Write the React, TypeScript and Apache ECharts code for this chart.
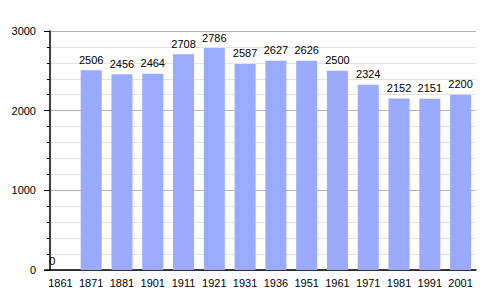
import React, { useEffect, useRef } from "react";
import * as echarts from "echarts";

const years = ["1861", "1871", "1881", "1901", "1911", "1921", "1931", "1936", "1951", "1961", "1971", "1981", "1991", "2001"];
const population = [0, 2506, 2456, 2464, 2708, 2786, 2587, 2627, 2626, 2500, 2324, 2152, 2151, 2200];

export default function App() {
  const ref = useRef<HTMLDivElement>(null);
  useEffect(() => {
    if (!ref.current) return;
    const chart = echarts.init(ref.current, null, { renderer: "svg" });
    const font = "'Liberation Sans', Arial, sans-serif";
    chart.setOption({
      animation: false,
      grid: { left: 45, right: 24, top: 31, bottom: 30, containLabel: false },
      xAxis: {
        type: "category",
        data: years,
        axisLine: { show: true, lineStyle: { color: "#000", width: 1.5 } },
        axisTick: { show: false },
        axisLabel: { color: "#000", fontSize: 11, fontFamily: font, margin: 7, interval: 0 },
        splitLine: { show: false },
      },
      yAxis: {
        type: "value",
        min: 0,
        max: 3000,
        interval: 1000,
        offset: -5,
        axisLine: { show: true, lineStyle: { color: "#000", width: 1.5 } },
        axisTick: { show: true, length: 6, lineStyle: { color: "#000" } },
        minorTick: { show: true, splitNumber: 5, length: 3, lineStyle: { color: "#000" } },
        axisLabel: {
          color: "#000",
          fontSize: 11,
          fontFamily: font,
          margin: 14,
          formatter: (v: number) => String(v),
        },
        splitLine: { show: true, lineStyle: { color: "#b4b4b4", width: 1 } },
        minorSplitLine: { show: true, lineStyle: { color: "#e2e2e2", width: 1 } },
      },
      series: [
        {
          type: "bar",
          data: population.map((v) =>
            v === 0 ? { value: v, label: { offset: [-8, 1] } } : v
          ),
          barWidth: 21,
          itemStyle: { color: "#99aaff" },
          label: {
            show: true,
            position: "top",
            distance: 5,
            color: "#000",
            fontSize: 11,
            fontFamily: font,
          },
        },
      ],
    });
    return () => chart.dispose();
  }, []);
  return <div ref={ref} style={{ width: 500, height: 300, position: "absolute", left: 0, top: 0 }} />;
}
